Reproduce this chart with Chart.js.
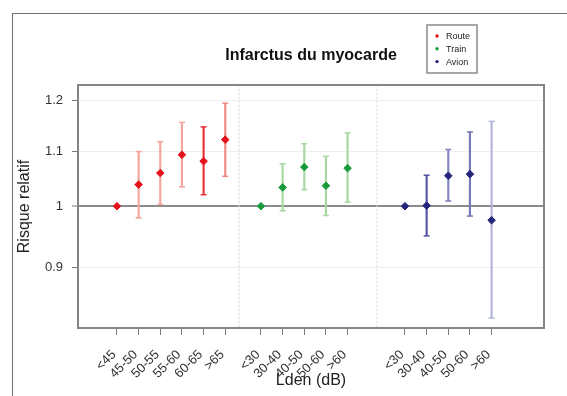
<!DOCTYPE html>
<html><head><meta charset="utf-8">
<script src="https://cdn.jsdelivr.net/npm/chart.js@4.4.1/dist/chart.umd.min.js"></script>
<style>
html,body{margin:0;padding:0;background:#fff;}
#wrap{position:relative;width:567px;height:396px;overflow:hidden;}
#frame{position:absolute;left:12px;top:13px;right:-5px;bottom:-5px;border-top:1px solid #6e6e6e;border-left:1px solid #6e6e6e;pointer-events:none;}
canvas{position:absolute;left:0;top:0;}
</style></head><body>
<div id="wrap"><div id="frame"></div><canvas id="c" width="567" height="396"></canvas></div>
<script>
// ---- data ----
const seriesNames = ['Route', 'Train', 'Avion'];
const routeCats = ['<45', '45-50', '50-55', '55-60', '60-65', '>65'];
const routeRR   = [1.000, 1.038, 1.059, 1.093, 1.081, 1.122];
const routeLow  = [null, 0.980, 1.003, 1.034, 1.020, 1.053];
const routeHigh = [null, 1.099, 1.118, 1.156, 1.147, 1.195];

const trainCats = ['<30', '30-40', '40-50', '50-60', '>60'];
const trainRR   = [1.000, 1.033, 1.070, 1.036, 1.068];
const trainLow  = [null, 0.992, 1.029, 0.984, 1.007];
const trainHigh = [null, 1.076, 1.114, 1.090, 1.135];

const avionCats = ['<30', '30-40', '40-50', '50-60', '>60'];
const avionRR   = [1.000, 1.001, 1.054, 1.057, 0.976];
const avionLow  = [null, 0.950, 1.009, 0.983, 0.824];
const avionHigh = [null, 1.055, 1.103, 1.137, 1.158];

const yTickValues = [0.9, 1, 1.1, 1.2];

// ---- layout / style (not data) ----
const groupStart = [0, 6.65, 13.30];
const separators = [5.64, 12.01];
const xMin = -1.80, xMax = 19.72;
const yMin = 0.8118, yMax = 1.2332;
const pointColors = ['#e5121c', '#169a3a', '#25257c'];
const ciColors = [
  ['#f3a49b', '#f3a49b', '#f3a49b', '#f3a49b', '#e8333a', '#f08a86'],
  ['#a6d89f', '#a6d89f', '#a6d89f', '#a6d89f', '#a6d89f'],
  ['#9a9acc', '#5656a6', '#8484c0', '#7676b8', '#b4b4dc']
];
const FONT = "'Liberation Sans', Arial, Helvetica, sans-serif";

const groups = [
  {cats: routeCats, rr: routeRR, lo: routeLow, hi: routeHigh},
  {cats: trainCats, rr: trainRR, lo: trainLow, hi: trainHigh},
  {cats: avionCats, rr: avionRR, lo: avionLow, hi: avionHigh}
];

const allPos = [], allLabels = [];
groups.forEach((g, gi) => g.cats.forEach((c, i) => { allPos.push(groupStart[gi] + i); allLabels.push(c); }));

const datasets = [];
groups.forEach((g, gi) => {
  const pos = g.cats.map((c, i) => groupStart[gi] + i);
  datasets.push({
    type: 'scatter', label: seriesNames[gi], order: 0,
    data: g.rr.map((v, i) => ({x: pos[i], y: v})),
    pointStyle: 'rectRot', pointRadius: 3.8, pointBorderWidth: 1,
    backgroundColor: pointColors[gi], borderColor: pointColors[gi]
  });
  const idx = g.lo.map((v, i) => i).filter(i => g.lo[i] !== null);
  datasets.push({
    type: 'bar', label: seriesNames[gi] + ' IC', order: 2, grouped: false,
    data: idx.map(i => ({x: pos[i], y: [g.lo[i], g.hi[i]]})),
    backgroundColor: idx.map(i => ciColors[gi][i]),
    barThickness: 1.5, borderWidth: 0
  });
  const capData = [], capCol = [];
  idx.forEach(i => {
    capData.push({x: pos[i], y: g.lo[i]}); capCol.push(ciColors[gi][i]);
    capData.push({x: pos[i], y: g.hi[i]}); capCol.push(ciColors[gi][i]);
  });
  datasets.push({
    type: 'scatter', label: seriesNames[gi] + ' caps', order: 1,
    data: capData, pointStyle: 'line', pointRadius: 3, pointBorderWidth: 1.5,
    borderColor: capCol, backgroundColor: capCol
  });
});
separators.forEach(s => {
  datasets.push({
    type: 'line', label: 'sep', order: 3,
    data: [{x: s, y: yMin}, {x: s, y: yMax}],
    borderColor: '#d4d4d4', borderWidth: 1, borderDash: [2, 2], pointRadius: 0, fill: false
  });
});

const boxPlugin = {
  id: 'boxAndLegend',
  afterDatasetsDraw(chart) {
    const {ctx, chartArea: a} = chart;
    ctx.save();
    ctx.strokeStyle = '#858585';
    ctx.lineWidth = 2;
    ctx.strokeRect(a.left, a.top, a.right - a.left, a.bottom - a.top);
    ctx.restore();
  },
  afterDraw(chart) {
    const ctx = chart.ctx;
    ctx.save();
    ctx.strokeStyle = '#8a8a8a';
    ctx.lineWidth = 1.5;
    ctx.strokeRect(427, 25, 50, 48);
    ctx.font = '9px ' + FONT;
    ctx.textBaseline = 'middle';
    ctx.textAlign = 'left';
    chart.data.datasets.filter(d => seriesNames.includes(d.label)).forEach((d, i) => {
      const y = 36 + i * 12.8;
      ctx.fillStyle = d.backgroundColor;
      ctx.beginPath(); ctx.arc(437, y, 1.7, 0, Math.PI * 2); ctx.fill();
      ctx.fillStyle = '#222';
      ctx.fillText(d.label, 446, y + 0.5);
    });
    ctx.restore();
  }
};

new Chart(document.getElementById('c'), {
  type: 'scatter',
  data: {datasets},
  plugins: [boxPlugin],
  options: {
    responsive: false, animation: false, devicePixelRatio: 1,
    layout: {padding: {left: 0, right: 23, top: 0, bottom: 0}},
    plugins: {
      legend: {display: false}, tooltip: {enabled: false},
      title: {display: true, fullSize: false, text: 'Infarctus du myocarde', color: '#111',
        font: {family: FONT, size: 16, weight: 'bold'}, padding: {top: 46, bottom: 19.8}}
    },
    scales: {
      x: {
        type: 'linear', min: xMin, max: xMax, offset: false,
        afterBuildTicks: s => { s.ticks = allPos.map(v => ({value: v})); },
        afterFit: s => { s.height = 68; },
        ticks: {autoSkip: false, minRotation: 45, maxRotation: 45, padding: 12, labelOffset: -3, color: '#333',
          font: {family: FONT, size: 13}, callback: (v, i) => allLabels[i]},
        grid: {drawOnChartArea: false, drawTicks: true, tickLength: 7, color: '#7a7a7a', tickColor: '#7a7a7a', offset: false},
        border: {display: false},
        title: {display: true, text: 'Lden (dB)', color: '#222', font: {family: FONT, size: 16}, padding: {top: 0, bottom: 6}}
      },
      y: {
        type: 'logarithmic', min: yMin, max: yMax,
        afterBuildTicks: s => { s.ticks = yTickValues.map(v => ({value: v})); },
        afterFit: s => { s.width = 78; },
        ticks: {padding: 9, color: '#333', font: {family: FONT, size: 13}, callback: v => String(v)},
        grid: {
          color: c => (c.tick && c.tick.value === 1) ? '#8c8c8c' : '#eeeeee',
          lineWidth: c => (c.tick && c.tick.value === 1) ? 2 : 1,
          tickColor: '#7a7a7a', tickWidth: 1, tickLength: 6
        },
        border: {display: false},
        title: {display: true, text: 'Risque relatif', color: '#222', font: {family: FONT, size: 16}, padding: {top: 15, bottom: 0}}
      }
    }
  }
});
</script>
</body></html>
